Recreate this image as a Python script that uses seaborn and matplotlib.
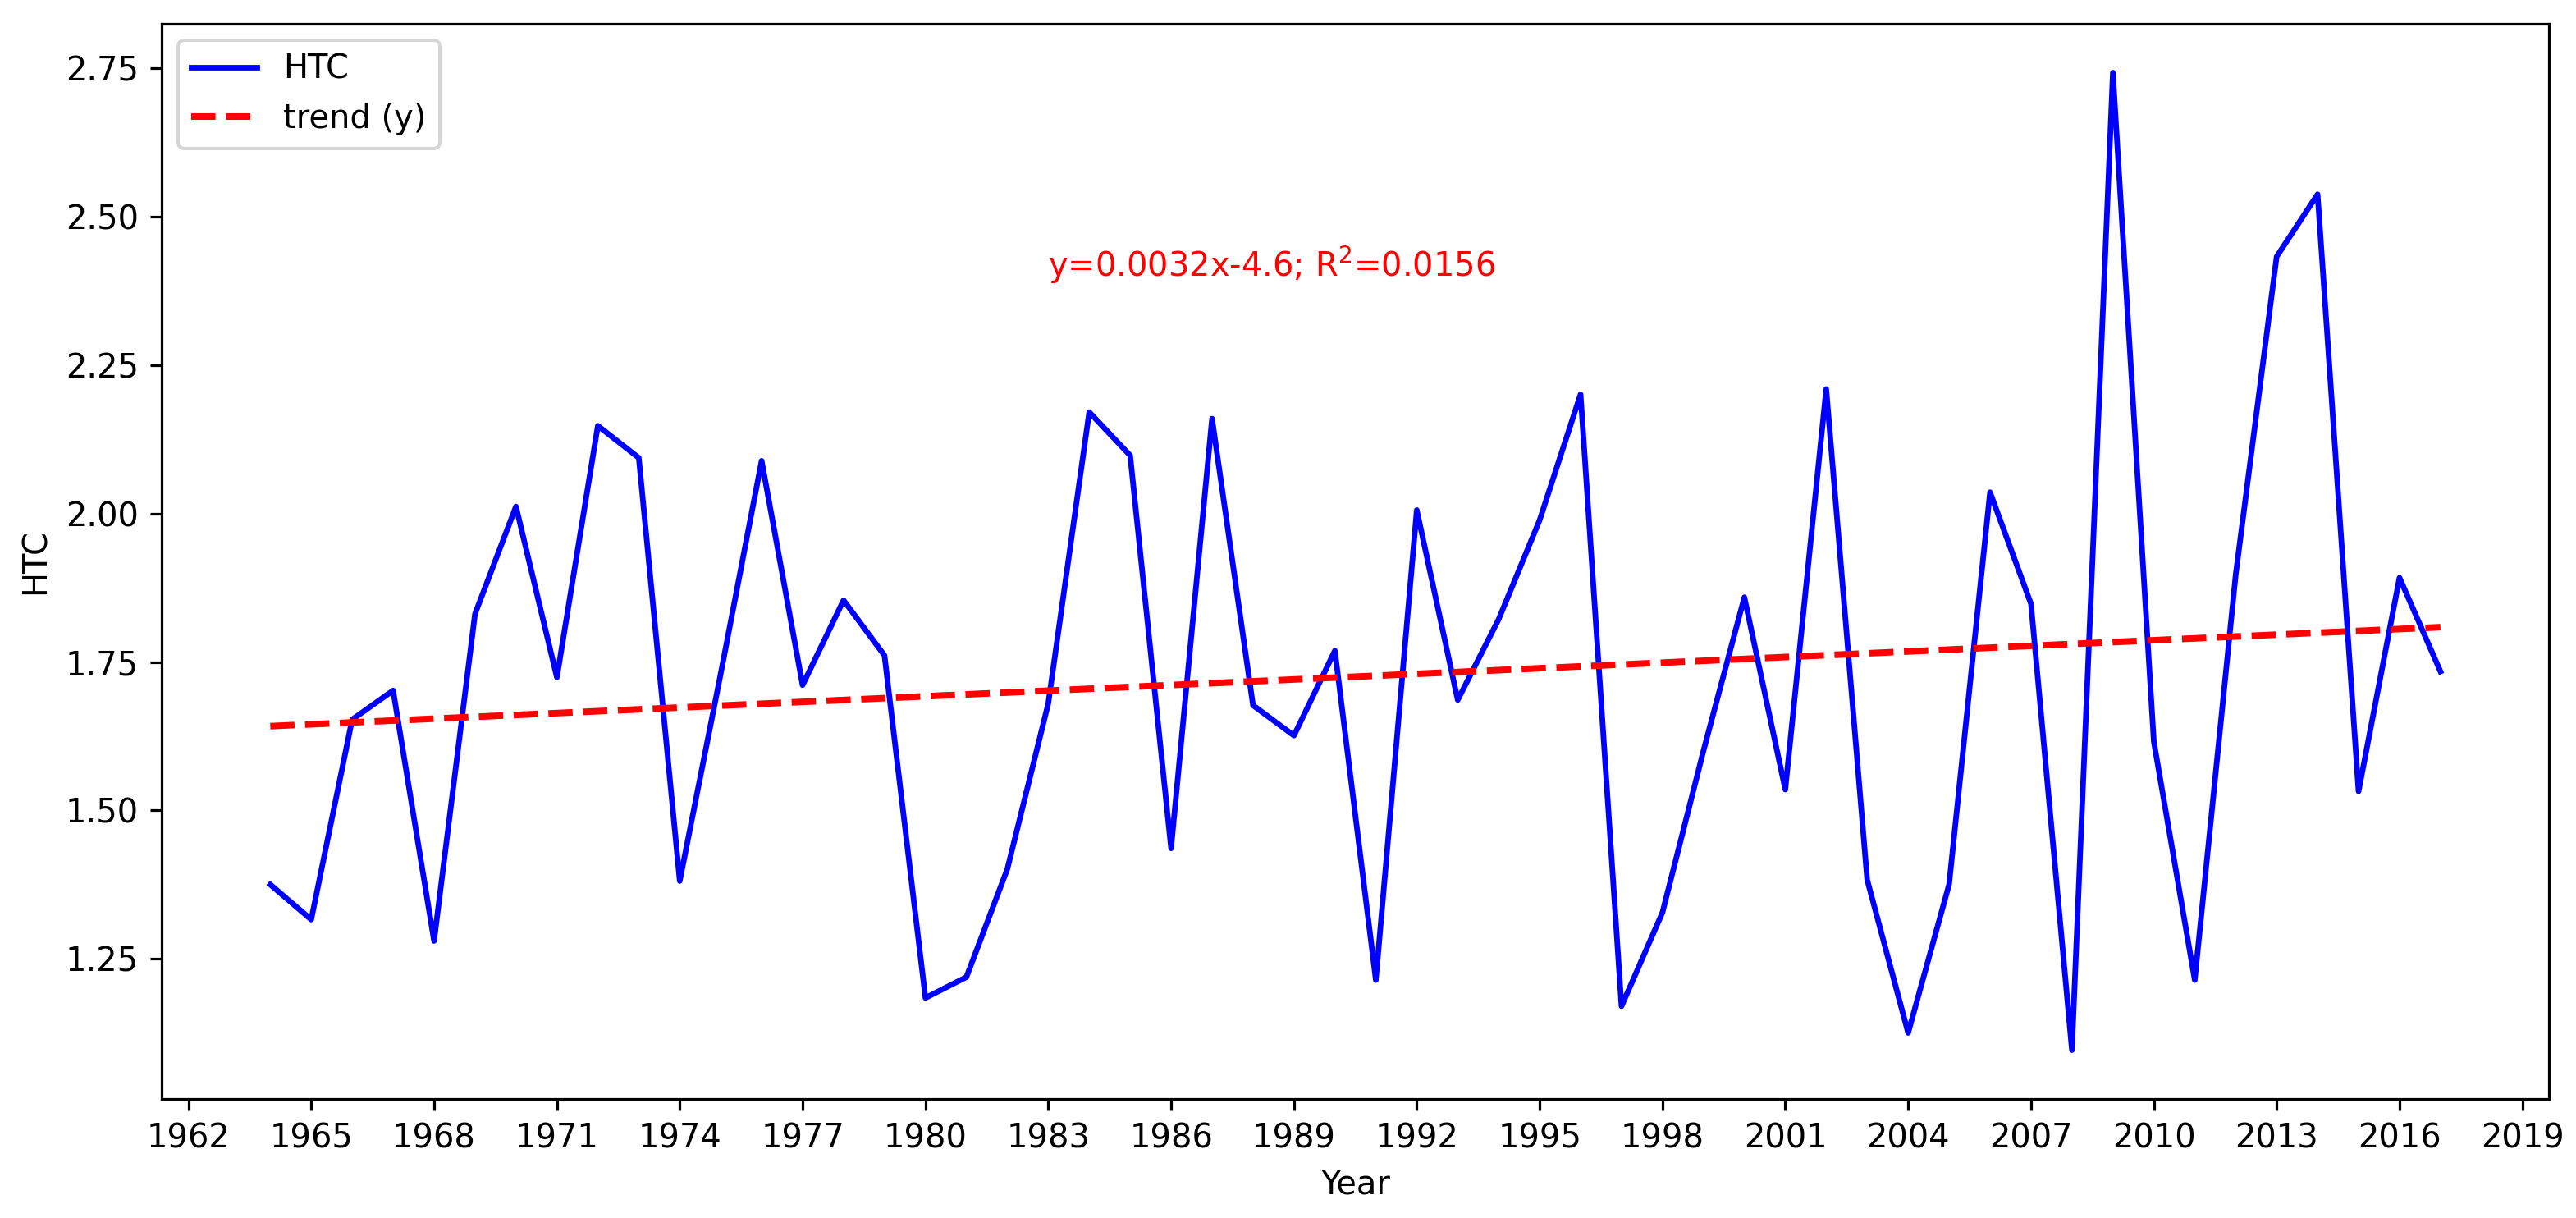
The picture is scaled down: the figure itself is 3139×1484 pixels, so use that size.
import numpy as np
import seaborn as sns
import matplotlib.pyplot as plt
from matplotlib.ticker import MultipleLocator

years = list(range(1964, 2018))
htc = [1.375, 1.316, 1.653, 1.702, 1.280, 1.831, 2.012, 1.724, 2.148, 2.094,
       1.381, 1.730, 2.089, 1.711, 1.854, 1.761, 1.184, 1.219, 1.401, 1.680,
       2.171, 2.098, 1.436, 2.160, 1.677, 1.626, 1.769, 1.214, 2.006, 1.686,
       1.822, 1.989, 2.201, 1.170, 1.328, 1.600, 1.859, 1.535, 2.210, 1.383,
       1.125, 1.375, 2.036, 1.848, 1.096, 2.743, 1.616, 1.214, 1.897, 2.433,
       2.538, 1.532, 1.892, 1.734]
eq_text = "y=0.0032x-4.6; R$^2$=0.0156"

# linear trend of the series
coef = np.polyfit(years, htc, 1)
trend = np.polyval(coef, years)

dpi = 288
fig, ax = plt.subplots(figsize=(3139 / dpi, 1484 / dpi), dpi=dpi)
fig.subplots_adjust(left=0.0628, right=0.9895, top=0.9805, bottom=0.0977)

sns.lineplot(x=years, y=htc, color="blue", linewidth=1.7, label="HTC", ax=ax)
sns.lineplot(x=years, y=trend, color="red", linestyle="--", linewidth=2,
             label="trend (y)", ax=ax)

ax.text(1983, 2.40, eq_text, color="red", fontsize=10)

ax.xaxis.set_major_locator(MultipleLocator(3))
ax.yaxis.set_major_locator(MultipleLocator(0.25))
ax.yaxis.set_major_formatter(plt.FormatStrFormatter("%.2f"))
ax.set_xlabel("Year")
ax.set_ylabel("HTC")
ax.legend(loc="upper left")

fig.savefig("out.png", dpi=dpi)
plt.close(fig)
